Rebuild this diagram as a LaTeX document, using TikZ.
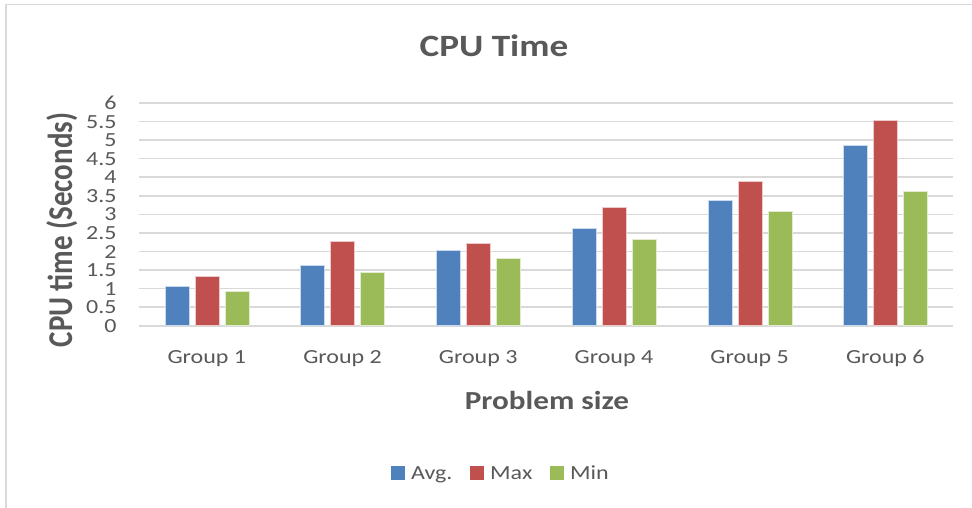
\documentclass[tikz,border=0pt]{standalone}
\usepackage{fontspec}
\setmainfont{Carlito}
\newfontfamily\cw[FakeStretch=1.2]{Carlito}
\newfontfamily\cn{Carlito}
\definecolor{txt}{HTML}{595959}
\definecolor{gridc}{HTML}{D9D9D9}
\definecolor{cblue}{HTML}{4F81BD}
\definecolor{cred}{HTML}{C0504D}
\definecolor{cgreen}{HTML}{9BBB59}
\tikzset{
  border/.style={draw=gridc, line width=1.5pt},
  gridline/.style={draw=gridc, line width=1.6pt},
  tick/.style={text=txt, font=\cw\fontsize{20}{20}\selectfont, anchor=base east, inner sep=0pt},
  grp/.style={text=txt, font=\cw\fontsize{20}{20}\selectfont, anchor=base, inner sep=0pt},
  leg/.style={text=txt, font=\cw\fontsize{20}{20}\selectfont, anchor=base west, inner sep=0pt},
  ttl/.style={text=txt, font=\cw\bfseries\fontsize{31}{31}\selectfont, anchor=base, inner sep=0pt},
  axt/.style={text=txt, font=\cw\bfseries\fontsize{26}{26}\selectfont, anchor=base, inner sep=0pt},
  bar/.style={draw=white!70!#1, line width=0.6pt, fill=#1},
}
\begin{document}
\begin{tikzpicture}[x=1pt,y=-1pt]
\useasboundingbox (0,0) rectangle (972,508);
\fill[white] (0,0) rectangle (972,508);
\draw[border] (6,508) -- (6,4.5) -- (972,4.5);
\foreach \k in {0,...,12} \draw[gridline] (139,{325.7-\k*18.56}) -- (953,{325.7-\k*18.56});
\foreach \k/\l in {0/0,1/0.5,2/1,3/1.5,4/2,5/2.5,6/3,7/3.5,8/4,9/4.5,10/5,11/5.5,12/6}
  \node[tick] (t\k) at (116.7,{325.7-\k*18.56+6.6}) {\l};
\foreach \i/\a/\m/\n in {0/1.07/1.32/0.92,1/1.64/2.28/1.44,2/2.04/2.23/1.82,3/2.62/3.19/2.32,4/3.39/3.89/3.08,5/4.86/5.53/3.63}{
  \filldraw[bar=cblue] ({139+\i*135.7+26},325.7) rectangle +(24,{-\a*37.12});
  \filldraw[bar=cred] ({139+\i*135.7+56},325.7) rectangle +(24,{-\m*37.12});
  \filldraw[bar=cgreen] ({139+\i*135.7+86},325.7) rectangle +(24,{-\n*37.12});
  \pgfmathtruncatemacro{\j}{\i+1}
  \node[grp] (g\j) at ({139+\i*135.7+67.85},363) {Group \j};
}
\node[ttl] (title) at (494,56.7) {CPU Time};
\node[axt] (xtitle) at (547,409) {Problem size};
\node[text=txt, font=\cn\bfseries\fontsize{29}{29}\selectfont, anchor=base, inner sep=0pt, xscale=1.2, rotate=90] (ytitle) at (72,230) {CPU time (Seconds)};
\fill[cblue] (390.7,466) rectangle (404.7,480);
\node[leg] (lavg) at (411,479.5) {Avg.};
\fill[cred] (470,466) rectangle (484,480);
\node[leg] (lmax) at (490,479.5) {Max};
\fill[cgreen] (550,466) rectangle (564,480);
\node[leg] (lmin) at (570,479.5) {Min};
\end{tikzpicture}
\end{document}
